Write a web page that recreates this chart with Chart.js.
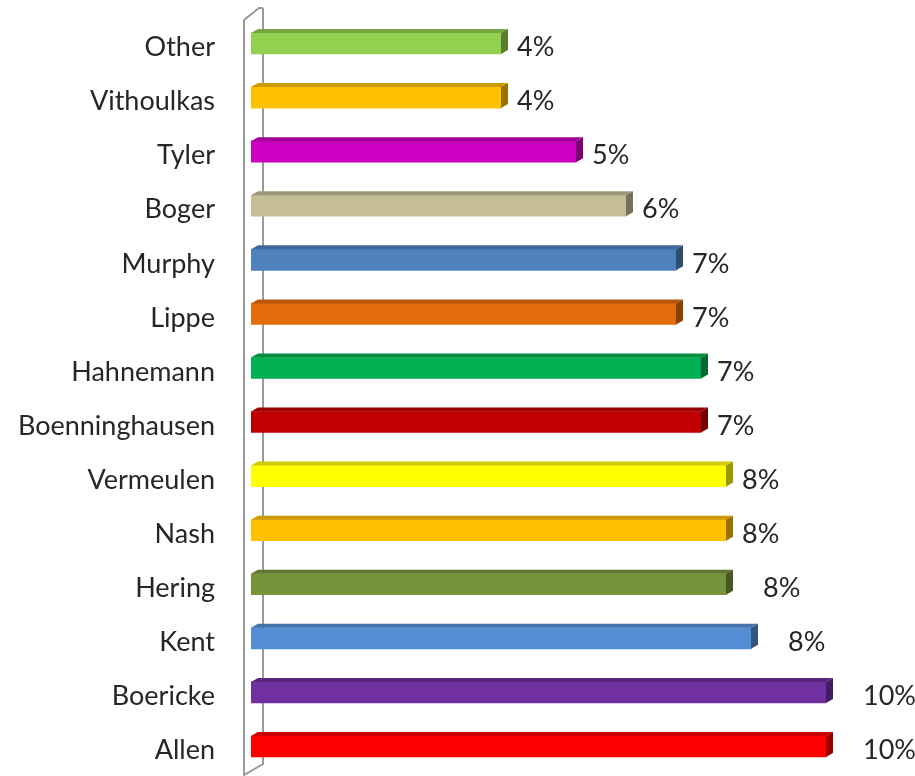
<!DOCTYPE html>
<html>
<head>
<meta charset="utf-8">
<script src="https://cdn.jsdelivr.net/npm/chart.js@4.4.1/dist/chart.umd.min.js"></script>
<style>
  html, body { margin: 0; padding: 0; background: #ffffff; }
  #wrap { width: 915px; height: 776px; position: relative; }
</style>
</head>
<body>
<div id="wrap"><canvas id="c"></canvas></div>
<script>
// ---- data ----
const categories = ['Other', 'Vithoulkas', 'Tyler', 'Boger', 'Murphy', 'Lippe', 'Hahnemann',
  'Boenninghausen', 'Vermeulen', 'Nash', 'Hering', 'Kent', 'Boericke', 'Allen'];
const counts = [10, 10, 13, 15, 17, 17, 18, 18, 19, 19, 19, 20, 23, 23];
const percentLabels = ['4%', '4%', '5%', '6%', '7%', '7%', '7%', '7%', '8%', '8%', '8%', '8%', '10%', '10%'];

// ---- styles ----
const barColors = ['#92D050', '#FFC000', '#CC00C0', '#C4BD97', '#4F81BD', '#E46C0A', '#00B050',
  '#C00000', '#FFFF00', '#FFC000', '#77933C', '#558ED5', '#7030A0', '#FF0000'];
const FONT = 'Lato, "Open Sans", sans-serif';
const FONT_SIZE = 27;
const TEXT_COLOR = '#262626';
const DEPTH_X = 7, DEPTH_Y = 4;
const LABEL_GAP = 9;
const EXTRA_GAP = { 'Hering': 21, 'Kent': 21, 'Boericke': 21, 'Allen': 21 };

function shade(hex, f) {
  const n = parseInt(hex.slice(1), 16);
  const r = Math.round(((n >> 16) & 255) * f);
  const g = Math.round(((n >> 8) & 255) * f);
  const b = Math.round((n & 255) * f);
  return `rgb(${r},${g},${b})`;
}

const wallPlugin = {
  id: 'wall',
  beforeDatasetsDraw(chart) {
    const { ctx, chartArea } = chart;
    const L = chartArea.left, T = chartArea.top, B = chartArea.bottom;
    ctx.save();
    ctx.strokeStyle = '#9a9a9a';
    ctx.lineWidth = 2;
    ctx.lineJoin = 'miter';
    ctx.beginPath();
    ctx.moveTo(L + 12, T - 8.5);
    ctx.lineTo(L + 8, T - 8.5);
    ctx.lineTo(L - 7, T + 3.5);
    ctx.lineTo(L - 7, B + 1.5);
    ctx.lineTo(L + 12, B - 9.5);
    ctx.lineTo(L + 12, T - 8.5);
    ctx.stroke();
    ctx.restore();
  }
};

const bar3dPlugin = {
  id: 'bar3d',
  afterDatasetsDraw(chart) {
    const { ctx } = chart;
    const meta = chart.getDatasetMeta(0);
    ctx.save();
    meta.data.forEach((el, i) => {
      const p = el.getProps(['x', 'y', 'base', 'height'], true);
      const top = p.y - p.height / 2, bottom = p.y + p.height / 2;
      const col = barColors[i];
      // top face
      ctx.fillStyle = shade(col, 0.8);
      ctx.beginPath();
      ctx.moveTo(p.base, top);
      ctx.lineTo(p.base + DEPTH_X, top - DEPTH_Y);
      ctx.lineTo(p.x + DEPTH_X, top - DEPTH_Y);
      ctx.lineTo(p.x, top);
      ctx.closePath();
      ctx.fill();
      // side face
      ctx.fillStyle = shade(col, 0.6);
      ctx.beginPath();
      ctx.moveTo(p.x, top);
      ctx.lineTo(p.x + DEPTH_X, top - DEPTH_Y);
      ctx.lineTo(p.x + DEPTH_X, bottom - DEPTH_Y);
      ctx.lineTo(p.x, bottom);
      ctx.closePath();
      ctx.fill();
      // value label
      ctx.fillStyle = TEXT_COLOR;
      ctx.font = `${FONT_SIZE}px ${FONT}`;
      ctx.textAlign = 'left';
      ctx.textBaseline = 'middle';
      const extra = EXTRA_GAP[categories[i]] || 0;
      ctx.fillText(percentLabels[i], p.x + DEPTH_X + LABEL_GAP + extra, p.y + 4);
    });
    ctx.restore();
  }
};

new Chart(document.getElementById('c'), {
  type: 'bar',
  data: {
    labels: categories,
    datasets: [{
      data: counts,
      backgroundColor: barColors,
      borderWidth: 0,
      barThickness: 21
    }]
  },
  options: {
    indexAxis: 'y',
    responsive: true,
    maintainAspectRatio: false,
    animation: false,
    layout: { padding: { top: 16.5, bottom: 2.5, right: 14, left: 0 } },
    plugins: { legend: { display: false }, tooltip: { enabled: false } },
    scales: {
      x: { display: false, min: 0, max: 26 },
      y: {
        afterFit(scale) { scale.width = 251; scale.paddingTop = 0; scale.paddingBottom = 0; },
        grid: { display: false, drawTicks: false },
        border: { display: false },
        ticks: {
          padding: 36,
          labelOffset: 4,
          color: TEXT_COLOR,
          font: { family: FONT, size: FONT_SIZE }
        }
      }
    }
  },
  plugins: [wallPlugin, bar3dPlugin]
});
</script>
</body>
</html>
